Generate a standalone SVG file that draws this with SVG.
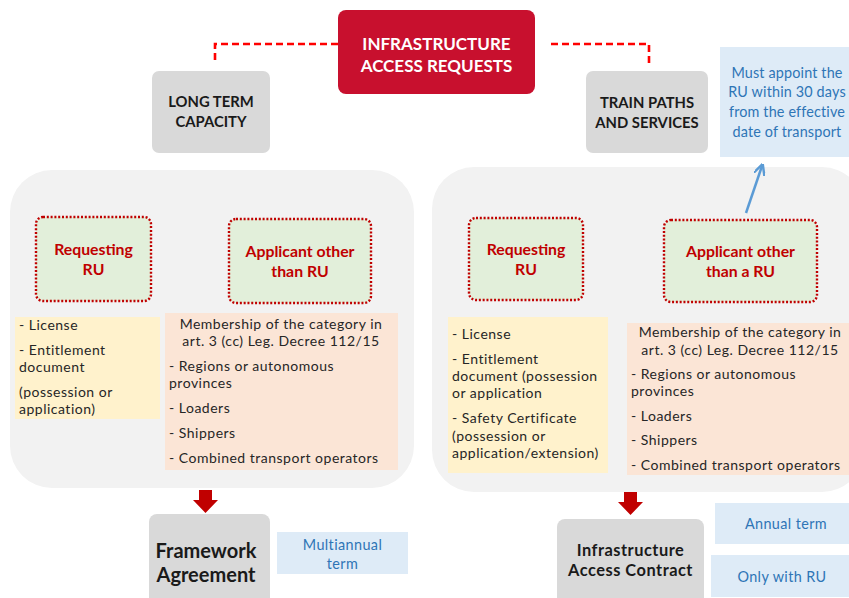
<svg xmlns="http://www.w3.org/2000/svg" width="849" height="598" viewBox="0 0 849 598">
<defs>
<style>
text{font-family:Lato,"Open Sans","Liberation Sans",sans-serif}
.gray{fill:#D9D9D9}
.panel{fill:#F2F2F2}
.green{fill:#E2EFDA;stroke:#C00000;stroke-width:2.4;stroke-dasharray:2 1.8}
.yellow{fill:#FFF2CC}
.orange{fill:#FBE5D6}
.note{fill:#DEEBF7}
.t-white{fill:#fff;font-weight:700;font-size:17px;text-anchor:middle}
.t-cap{fill:#1a1a1a;font-weight:700;font-size:14.8px;text-anchor:middle}
.t-red{fill:#C00000;font-weight:700;font-size:15.8px;text-anchor:middle}
.t-body{fill:#262626;font-size:14px;letter-spacing:0.5px}
.t-mid{text-anchor:middle}
.t-blue{fill:#2E75B6;font-size:14.4px;letter-spacing:0.4px;text-anchor:middle}
.t-note{letter-spacing:0.15px}
.t-big{fill:#1a1a1a;font-weight:700;text-anchor:middle}
.dash{fill:none;stroke:#FF0000;stroke-width:2.6;stroke-dasharray:7 4}
.blockarrow{fill:#C00000}
</style>
<marker id="blueHead" viewBox="0 0 10 10" refX="8" refY="5" markerWidth="4.5" markerHeight="4.5" orient="auto-start-reverse">
<path d="M0,0 L10,5 L0,10" fill="none" stroke="#5B9BD5" stroke-width="2.2"/>
</marker>
</defs>

<g id="panels">
<rect id="panel-left" class="panel" x="10" y="170" width="404" height="318" rx="42"/>
<rect id="panel-right" class="panel" x="432" y="167" width="432" height="325" rx="42"/>
</g>

<g id="connectors">
<path class="dash" d="M338,44 H215 V63"/>
<path class="dash" d="M551,44 H649 V63"/>
<line x1="746" y1="213" x2="762" y2="166" stroke="#5B9BD5" stroke-width="2.5" marker-end="url(#blueHead)"/>
<path class="blockarrow" d="M199,490 H212 V500 H218 L205.5,513 L193,500 H199 Z"/>
<path class="blockarrow" d="M624,492 H637 V502 H643 L630.5,515 L618,502 H624 Z"/>
</g>

<g id="root">
<rect x="338" y="10" width="197" height="84" rx="8" fill="#C8102E"/>
<text class="t-white" x="436.5" y="50">INFRASTRUCTURE</text>
<text class="t-white" x="436.5" y="72">ACCESS REQUESTS</text>
</g>

<g id="long-term">
<rect class="gray" x="152" y="71" width="118" height="82" rx="7"/>
<text class="t-cap" x="211" y="107">LONG TERM</text>
<text class="t-cap" x="211" y="127">CAPACITY</text>
</g>

<g id="train-paths">
<rect class="gray" x="586" y="71" width="122" height="82" rx="7"/>
<text class="t-cap" x="647" y="108">TRAIN PATHS</text>
<text class="t-cap" x="647" y="128">AND SERVICES</text>
</g>

<g id="note-appoint">
<rect class="note" x="720" y="47" width="140" height="110"/>
<text class="t-blue t-note" x="787" y="78">Must appoint the</text>
<text class="t-blue t-note" x="787" y="97">RU within 30 days</text>
<text class="t-blue t-note" x="787" y="117">from the effective</text>
<text class="t-blue t-note" x="787" y="137">date of transport</text>
</g>

<g id="left-requesting">
<rect class="green" x="36" y="217" width="115" height="84" rx="7"/>
<text class="t-red" x="93.5" y="255">Requesting</text>
<text class="t-red" x="93.5" y="275">RU</text>
</g>

<g id="left-applicant">
<rect class="green" x="229" y="219" width="142" height="84" rx="7"/>
<text class="t-red" x="300" y="257">Applicant other</text>
<text class="t-red" x="300" y="277">than RU</text>
</g>

<g id="right-requesting">
<rect class="green" x="469" y="218" width="114" height="82" rx="7"/>
<text class="t-red" x="526" y="255">Requesting</text>
<text class="t-red" x="526" y="275">RU</text>
</g>

<g id="right-applicant">
<rect class="green" x="664" y="220" width="153" height="82" rx="7"/>
<text class="t-red" x="740.5" y="257">Applicant other</text>
<text class="t-red" x="740.5" y="277">than a RU</text>
</g>

<g id="left-requirements">
<rect class="yellow" x="15" y="317" width="145" height="102"/>
<text class="t-body" x="19" y="330">- License</text>
<text class="t-body" x="19" y="355">- Entitlement</text>
<text class="t-body" x="19" y="372">document</text>
<text class="t-body" x="19" y="397">(possession or</text>
<text class="t-body" x="19" y="414">application)</text>
</g>

<g id="left-categories">
<rect class="orange" x="165" y="313" width="233" height="157"/>
<text class="t-body t-mid" x="281" y="329">Membership of the category in</text>
<text class="t-body t-mid" x="281" y="346">art. 3 (cc) Leg. Decree 112/15</text>
<text class="t-body" x="169" y="371">- Regions or autonomous</text>
<text class="t-body" x="169" y="388">provinces</text>
<text class="t-body" x="169" y="413">- Loaders</text>
<text class="t-body" x="169" y="438">- Shippers</text>
<text class="t-body" x="169" y="463">- Combined transport operators</text>
</g>

<g id="right-requirements">
<rect class="yellow" x="448" y="317" width="160" height="156"/>
<text class="t-body" x="452" y="339">- License</text>
<text class="t-body" x="452" y="364">- Entitlement</text>
<text class="t-body" x="452" y="381">document (possession</text>
<text class="t-body" x="452" y="398">or application</text>
<text class="t-body" x="452" y="423">- Safety Certificate</text>
<text class="t-body" x="452" y="441">(possession or</text>
<text class="t-body" x="452" y="458">application/extension)</text>
</g>

<g id="right-categories">
<rect class="orange" x="627" y="323" width="225" height="152"/>
<text class="t-body t-mid" x="740" y="337">Membership of the category in</text>
<text class="t-body t-mid" x="740" y="355">art. 3 (cc) Leg. Decree 112/15</text>
<text class="t-body" x="631" y="379">- Regions or autonomous</text>
<text class="t-body" x="631" y="396">provinces</text>
<text class="t-body" x="631" y="421">- Loaders</text>
<text class="t-body" x="631" y="445">- Shippers</text>
<text class="t-body" x="631" y="470">- Combined transport operators</text>
</g>

<g id="framework-agreement">
<rect class="gray" x="149" y="514" width="121" height="95" rx="8"/>
<text class="t-big" x="206" y="558" font-size="20">Framework</text>
<text class="t-big" x="206" y="582" font-size="20">Agreement</text>
</g>

<g id="note-multiannual">
<rect class="note" x="277" y="532" width="131" height="42"/>
<text class="t-blue" x="342.5" y="550">Multiannual</text>
<text class="t-blue" x="342.5" y="569">term</text>
</g>

<g id="access-contract">
<rect class="gray" x="557" y="519" width="147" height="90" rx="8"/>
<text class="t-big" x="630.5" y="556" font-size="16.4" letter-spacing="0.5">Infrastructure</text>
<text class="t-big" x="630.5" y="576" font-size="16.4" letter-spacing="0.5">Access Contract</text>
</g>

<g id="note-annual">
<rect class="note" x="715" y="503" width="140" height="41"/>
<text class="t-blue" x="786" y="529">Annual term</text>
</g>

<g id="note-only-ru">
<rect class="note" x="711" y="555" width="144" height="42"/>
<text class="t-blue" x="782" y="582">Only with RU</text>
</g>
</svg>
